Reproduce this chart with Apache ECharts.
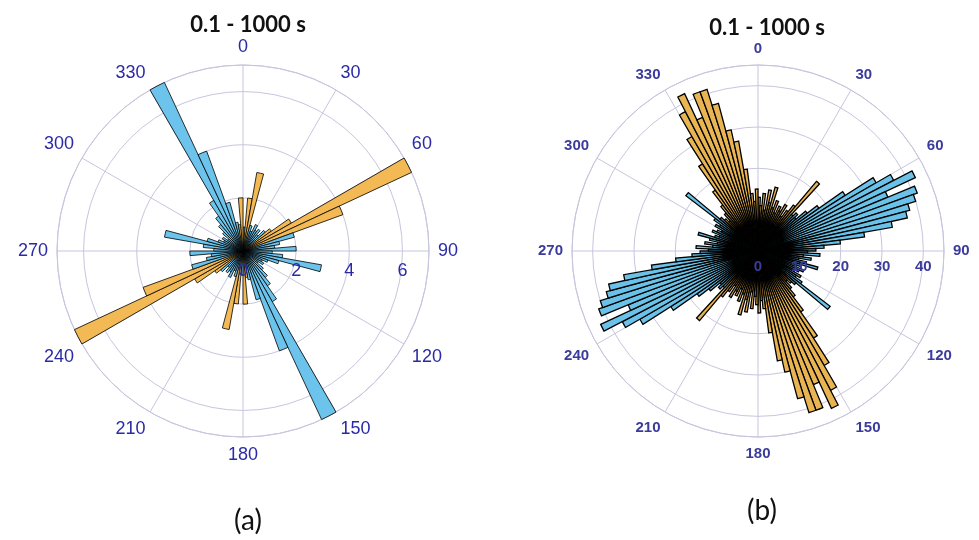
<!DOCTYPE html>
<html>
<head>
<meta charset="utf-8">
<script src="https://cdn.jsdelivr.net/npm/echarts@6/dist/echarts.min.js"></script>
<style>
html,body{margin:0;padding:0;background:#ffffff;}
#chart{width:979px;height:540px;}
</style>
</head>
<body>
<div id="chart"></div>
<script>
// ---------- data ----------
const titleText = '0.1 - 1000 s';
const panelLabels = ['(a)', '(b)'];

// panel (a): 5 degree bins, centres 2.5 ... 357.5
const binWidthA = 5;
const radiusMaxA = 7;
const radiusStepA = 2;
const blueA = [
  0.9, 0, 0, 1.0, 0.8, 1.1, 0.9, 1.0, 0.8, 1.1, 0, 0,
  0, 0, 2.0, 1.4, 1.2, 2.0, 1.1, 1.5, 3.0, 1.4, 1.0, 0.8,
  0.9, 0.7, 1.0, 1.3, 1.6, 2.2, 7.0, 4.0, 1.9, 1.1, 0, 0,
  0.9, 0, 0, 1.0, 0.8, 1.1, 0.9, 1.0, 0.8, 1.1, 0, 0,
  0, 0, 2.0, 1.4, 1.2, 2.0, 1.1, 1.5, 3.0, 1.4, 1.0, 0.8,
  0.9, 0.7, 1.0, 1.3, 1.6, 2.2, 7.0, 4.0, 1.9, 1.1, 0, 0
];
const orangeA = [
  0, 2.0, 3.0, 0, 0, 0, 0, 0, 0, 0, 1.3, 2.1,
  7.0, 4.0, 0, 0, 0, 0, 0, 0, 0, 0, 0, 0,
  0, 0, 0, 0, 0, 0, 0, 0, 0, 0, 1.0, 2.0,
  0, 2.0, 3.0, 0, 0, 0, 0, 0, 0, 0, 1.3, 2.1,
  7.0, 4.0, 0, 0, 0, 0, 0, 0, 0, 0, 0, 0,
  0, 0, 0, 0, 0, 0, 0, 0, 0, 0, 1.0, 2.0
];

// panel (b): 2.5 degree bins, centres 1.25 ... 358.75
const binWidthB = 2.5;
const radiusMaxB = 45;
const radiusStepB = 10;
const blueB = [
  0, 0, 0, 0, 0, 0, 0, 0, 0, 0, 0, 0,
  0, 0, 0, 0, 0, 12, 13, 12, 15, 18, 25, 33,
  37, 42, 34, 41, 40, 38, 37, 33, 26, 20, 16, 14,
  12, 15, 11, 13, 10, 12, 15, 11, 10, 12, 11, 10,
  12, 11, 13, 22, 12, 0, 0, 0, 0, 0, 0, 0,
  0, 0, 0, 0, 0, 0, 0, 0, 0, 0, 0, 0,
  0, 0, 0, 0, 0, 0, 0, 0, 0, 0, 0, 0,
  0, 0, 0, 0, 0, 12, 13, 12, 15, 18, 25, 33,
  37, 42, 34, 41, 40, 38, 37, 33, 26, 20, 16, 14,
  12, 15, 11, 13, 10, 12, 15, 11, 10, 12, 11, 10,
  12, 11, 13, 22, 12, 0, 0, 0, 0, 0, 0, 0,
  0, 0, 0, 0, 0, 0, 0, 0, 0, 0, 0, 0
];
const orangeB = [
  13, 11, 14, 10, 15, 12, 16, 11, 13, 10, 12, 11,
  13, 10, 12, 14, 22, 0, 0, 0, 0, 0, 0, 0,
  0, 0, 0, 0, 0, 0, 0, 0, 0, 0, 0, 0,
  0, 0, 0, 0, 0, 0, 0, 0, 0, 0, 0, 0,
  0, 0, 0, 0, 0, 11, 10, 12, 14, 18, 25, 32,
  38, 42, 35, 41, 41, 37, 30, 27, 20, 14, 12, 15,
  13, 11, 14, 10, 15, 12, 16, 11, 13, 10, 12, 11,
  13, 10, 12, 14, 22, 0, 0, 0, 0, 0, 0, 0,
  0, 0, 0, 0, 0, 0, 0, 0, 0, 0, 0, 0,
  0, 0, 0, 0, 0, 0, 0, 0, 0, 0, 0, 0,
  0, 0, 0, 0, 0, 11, 10, 12, 14, 18, 25, 32,
  38, 42, 35, 41, 41, 37, 30, 27, 20, 14, 12, 15
];

// ---------- build ----------
function polarData(blue, orange, binWidth, blueColor, orangeColor) {
  const out = [];
  blue.forEach(function (v, i) {
    const ang = binWidth * i + binWidth / 2;
    if (v > 0) out.push({ value: [v, ang], itemStyle: { color: blueColor } });
    if (orange[i] > 0) out.push({ value: [orange[i], ang], itemStyle: { color: orangeColor } });
  });
  return out;
}

const GRID = '#c6c6df';
const LABEL_BLUE = '#2a2aa6';
const LABEL_BLUE_B = '#3b3b9c';
const CX = [243, 758], CY = 251, R = 186;

function angleAxisMain(idx, fontSize, bold, color) {
  return {
    polarIndex: idx, type: 'value', min: 0, max: 360, interval: 30,
    startAngle: 90, clockwise: true,
    axisLine: { show: true, lineStyle: { color: GRID, width: 1 } },
    axisTick: { show: false },
    splitLine: { show: true, lineStyle: { color: GRID, width: 1 } },
    axisLabel: { show: true, margin: 9, color: color, fontSize: fontSize,
      fontWeight: bold ? 'bold' : 'normal', fontFamily: 'Liberation Sans' }
  };
}
function radiusAxisMain(idx, max, step) {
  return {
    polarIndex: idx, type: 'value', min: 0, max: max, interval: step,
    axisLine: { show: false }, axisTick: { show: false }, axisLabel: { show: false },
    splitLine: { show: true, lineStyle: { color: GRID, width: 1 } }
  };
}
function radiusAxisLabels(idx, max, step, fontSize, bold, color, margin) {
  return {
    polarIndex: idx, type: 'value', min: 0, max: max, interval: step, z: 10,
    axisLine: { show: false }, axisTick: { show: false }, splitLine: { show: false },
    axisLabel: { show: true, showMaxLabel: false, margin: margin, verticalAlign: 'middle',
      align: 'center', color: color, fontSize: fontSize,
      fontWeight: bold ? 'bold' : 'normal', fontFamily: 'Liberation Sans' }
  };
}
function barSeries(idx, data, binWidth, borderWidth) {
  return {
    type: 'bar', coordinateSystem: 'polar', polarIndex: idx,
    data: data, barWidth: binWidth,
    itemStyle: { borderColor: '#000000', borderWidth: borderWidth },
    silent: true, animation: false
  };
}

const titleStyle = { fontFamily: 'Lato', fontWeight: 'bold', fontSize: 22, color: '#111111' };
const panelStyle = { fontFamily: 'Lato', fontWeight: 'normal', fontSize: 28, color: '#111111' };

const option = {
  backgroundColor: '#ffffff',
  animation: false,
  title: [
    { text: titleText, left: CX[0], top: 9, textAlign: 'center', textStyle: titleStyle },
    { text: titleText, left: 762, top: 12, textAlign: 'center', textStyle: titleStyle },
    { text: panelLabels[0], left: CX[0], top: 502, textAlign: 'center', textStyle: panelStyle },
    { text: panelLabels[1], left: 757, top: 492, textAlign: 'center', textStyle: panelStyle }
  ],
  polar: [
    { center: [CX[0], CY], radius: R },
    { center: [CX[1], CY], radius: R },
    { center: [CX[0], CY], radius: R },
    { center: [CX[1], CY], radius: R }
  ],
  angleAxis: [
    angleAxisMain(0, 18, false, LABEL_BLUE),
    angleAxisMain(1, 15, true, LABEL_BLUE_B),
    { polarIndex: 2, type: 'value', min: 0, max: 360, startAngle: 0, show: false },
    { polarIndex: 3, type: 'value', min: 0, max: 360, startAngle: 0, show: false }
  ],
  radiusAxis: [
    radiusAxisMain(0, radiusMaxA, radiusStepA),
    radiusAxisMain(1, radiusMaxB, radiusStepB),
    radiusAxisLabels(2, radiusMaxA, radiusStepA, 18, false, LABEL_BLUE, -20),
    radiusAxisLabels(3, radiusMaxB, radiusStepB, 15, true, LABEL_BLUE_B, -16)
  ],
  series: [
    barSeries(0, polarData(blueA, orangeA, binWidthA, '#6cc4ec', '#f3b955'), binWidthA, 0.8),
    barSeries(1, polarData(blueB, orangeB, binWidthB, '#6ac2e8', '#e9b552'), binWidthB, 1.3)
  ]
};

const chart = echarts.init(document.getElementById('chart'), null, { renderer: 'canvas' });
chart.setOption(option);
</script>
</body>
</html>
